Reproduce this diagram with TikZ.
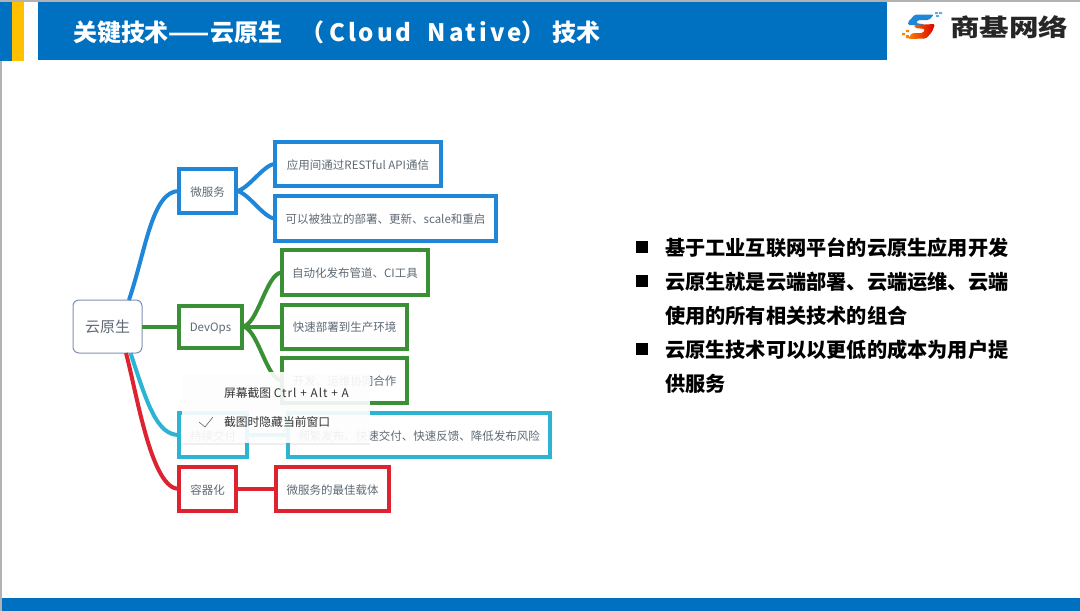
\documentclass[tikz,border=0pt]{standalone}
\usepackage{fontspec}
\setmainfont{Noto Sans CJK SC}
\usepackage{tikz}
\usetikzlibrary{positioning, shadows}

\definecolor{barblue}{HTML}{0070C0}
\definecolor{baryellow}{HTML}{FFC000}
\definecolor{mapblue}{HTML}{1F86D8}
\definecolor{mapgreen}{HTML}{3A9035}
\definecolor{mapcyan}{HTML}{2BB5D3}
\definecolor{mapred}{HTML}{DD2230}
\definecolor{maptext}{HTML}{5F6A75}
\definecolor{rootedge}{HTML}{8090B4}

\begin{document}
\begin{tikzpicture}[
            x=1pt, y=1pt,
            outer sep=0pt,
            topic/.style={draw=#1, line width=4pt, rectangle, fill=white, inner sep=0pt, text height=11pt, text depth=1pt, text=maptext, font=\fontsize{11.5}{14}\selectfont},
            branch/.style={draw=#1, line width=4pt},
            rootbox/.style={draw=rootedge, line width=1pt, rectangle, rounded corners=6pt, fill=white, inner sep=0pt, minimum width=69pt, minimum height=53pt, text=maptext, font=\fontsize{15}{18}\selectfont},
            marker/.style={rectangle, fill=black, inner sep=0pt, minimum size=12pt},
            bullettext/.style={anchor=west, inner sep=0pt, text=black, font=\fontsize{20.2}{24}\bfseries\selectfont},
            menutext/.style={anchor=west, inner sep=0pt, text=black!80, font=\fontsize{11.8}{14}\selectfont}
        ]
        \useasboundingbox (0,0) rectangle (1080,-611);
        \fill[white] (0,0) rectangle (1080,-611);

        % Rahmen
        \fill[black!30] (0,0) rectangle (1080,-2);
        \fill[black!30] (0,0) rectangle (1.5,-611);
        \fill[barblue] (0,-2) rectangle (12,-61);
        \fill[baryellow] (12,-2) rectangle (24,-61);
        \fill[barblue] (38,-2) rectangle (887,-60);
        \fill[barblue] (2,-598) rectangle (1080,-611);
        \node[anchor=west, inner sep=0pt, text=white, font=\fontsize{24}{28}\bfseries\selectfont] (title) at (73,-32) {关键技术——云原生\hspace{18pt}（\hspace{5pt}{\addfontfeatures{LetterSpace=12}Cloud\hspace{8pt} Native}）\hspace{7pt}技术};

        % Logo
        \fill[mapblue, rounded corners=1.5pt] (915,-14.5) -- (934,-14.5) -- (929,-20) -- (918,-20) -- (916,-23) -- (925,-24.5) -- (921,-25.5) -- (908,-25) -- (908,-22) -- cycle;
        \shade[left color=orange, right color=red!85!black, rounded corners=1.5pt] (914,-25) -- (935,-24) -- (932,-32) -- (926,-38.5) -- (908,-39) -- (912,-33) -- (923,-33) -- (925,-29) -- (915,-28) -- cycle;
        \fill[mapblue!70] (935,-12) rectangle (938,-14) (939,-12) rectangle (942,-14) (936,-15) rectangle (939,-17);
        \fill[orange] (902,-33) rectangle (905,-35) (906,-30) rectangle (909,-32) (906,-35) rectangle (909,-38);
        \node[anchor=west, inner sep=0pt, xscale=1.23, text=black!85, font=\fontsize{24}{28}\bfseries\selectfont] (logotext) at (950,-27) {商基网络};

        % Knoten
        \node[rootbox] (root) at (107.5,-326.5) {云原生};

        \node[topic=mapblue, minimum width=57pt, minimum height=44pt, right=37pt of root, yshift=135.5pt] (micro) {微服务};
        \node[topic=mapblue, minimum width=166pt, minimum height=44pt, right=39pt of micro, yshift=27pt] (rest) {应用间通过RESTful API通信};
        \node[topic=mapblue, minimum width=221pt, minimum height=45pt, right=39pt of micro, yshift=-27.5pt] (deploy) {可以被独立的部署、更新、scale和重启};

        \node[topic=mapgreen, minimum width=63pt, minimum height=42pt, right=37pt of root] (devops) {DevOps};
        \node[topic=mapgreen, minimum width=146pt, minimum height=45pt, right=40pt of devops, yshift=54pt] (pipeline) {自动化发布管道、CI工具};
        \node[topic=mapgreen, minimum width=125pt, minimum height=44pt, right=40pt of devops] (prod) {快速部署到生产环境};
        \node[topic=mapgreen, minimum width=125pt, minimum height=45pt, right=40pt of devops, yshift=-54pt] (team) {开发、运维协同合作};

        \node[topic=mapcyan, minimum width=68pt, minimum height=44pt, right=37pt of root, yshift=-108.5pt] (delivery) {持续交付};
        \node[topic=mapcyan, minimum width=262pt, minimum height=44pt, right=41pt of delivery] (release) {频繁发布、快速交付、快速反馈、降低发布风险};

        \node[topic=mapred, minimum width=57pt, minimum height=44pt, right=37pt of root, yshift=-162.5pt] (container) {容器化};
        \node[topic=mapred, minimum width=113pt, minimum height=44pt, right=40pt of container] (carrier) {微服务的最佳载体};

        % Kanten
        \draw[branch=mapblue] (root.51) .. controls +(17,50) and +(-27,0) .. (micro.west);
        \draw[branch=mapblue] (micro.east) to[out=0, in=180, looseness=0.6] (rest.west);
        \draw[branch=mapblue] (micro.east) to[out=0, in=180, looseness=0.6] (deploy.west);
        \draw[branch=mapgreen] (root.east) -- (devops.west);
        \draw[branch=mapgreen] (devops.east) to[out=0, in=180, looseness=0.6] (pipeline.west);
        \draw[branch=mapgreen] (devops.east) -- (prod.west);
        \draw[branch=mapgreen] (devops.east) to[out=0, in=180, looseness=0.6] (team.west);
        \draw[branch=mapcyan] (root.-49) .. controls +(17,-52) and +(-22,0) .. (delivery.west);
        \draw[branch=mapcyan] (delivery.east) -- (release.west);
        \draw[branch=mapred] (root.-55) .. controls +(12,-47) and +(-27,0) .. (container.west);
        \draw[branch=mapred] (container.east) -- (carrier.west);

        % Menue
        \node[rectangle, fill=white, fill opacity=0.9, minimum width=188pt, minimum height=71pt, drop shadow={opacity=0.12, shadow xshift=0pt, shadow yshift=-1.5pt}] (popup) at (276,-407.5) {};
        \node[menutext, right=42pt of popup.west, yshift=14.5pt] (shot) {屏幕截图 {\addfontfeatures{LetterSpace=9}Ctrl + Alt + A}};
        \node[menutext, right=42pt of popup.west, yshift=-14.5pt] (hide) {截图时隐藏当前窗口};
        \draw[black!60, line width=0.6pt] (199,-422) -- (205,-427) -- (213,-417);

        % Stichpunkte
        \node[marker] (m1) at (642,-247) {};
        \node[bullettext, right=17pt of m1, yshift=-1pt] (t1) {基于工业互联网平台的云原生应用开发};
        \node[marker, below=22pt of m1] (m2) {};
        \node[bullettext, right=17pt of m2, yshift=-1pt] (t2) {云原生就是云端部署、云端运维、云端};
        \node[bullettext, right=17pt of m2, yshift=-35pt] (t2b) {使用的所有相关技术的组合};
        \node[marker, below=56pt of m2] (m3) {};
        \node[bullettext, right=17pt of m3, yshift=-1pt] (t3) {云原生技术可以以更低的成本为用户提};
        \node[bullettext, right=17pt of m3, yshift=-35pt] (t3b) {供服务};

    \end{tikzpicture}
\end{document}
